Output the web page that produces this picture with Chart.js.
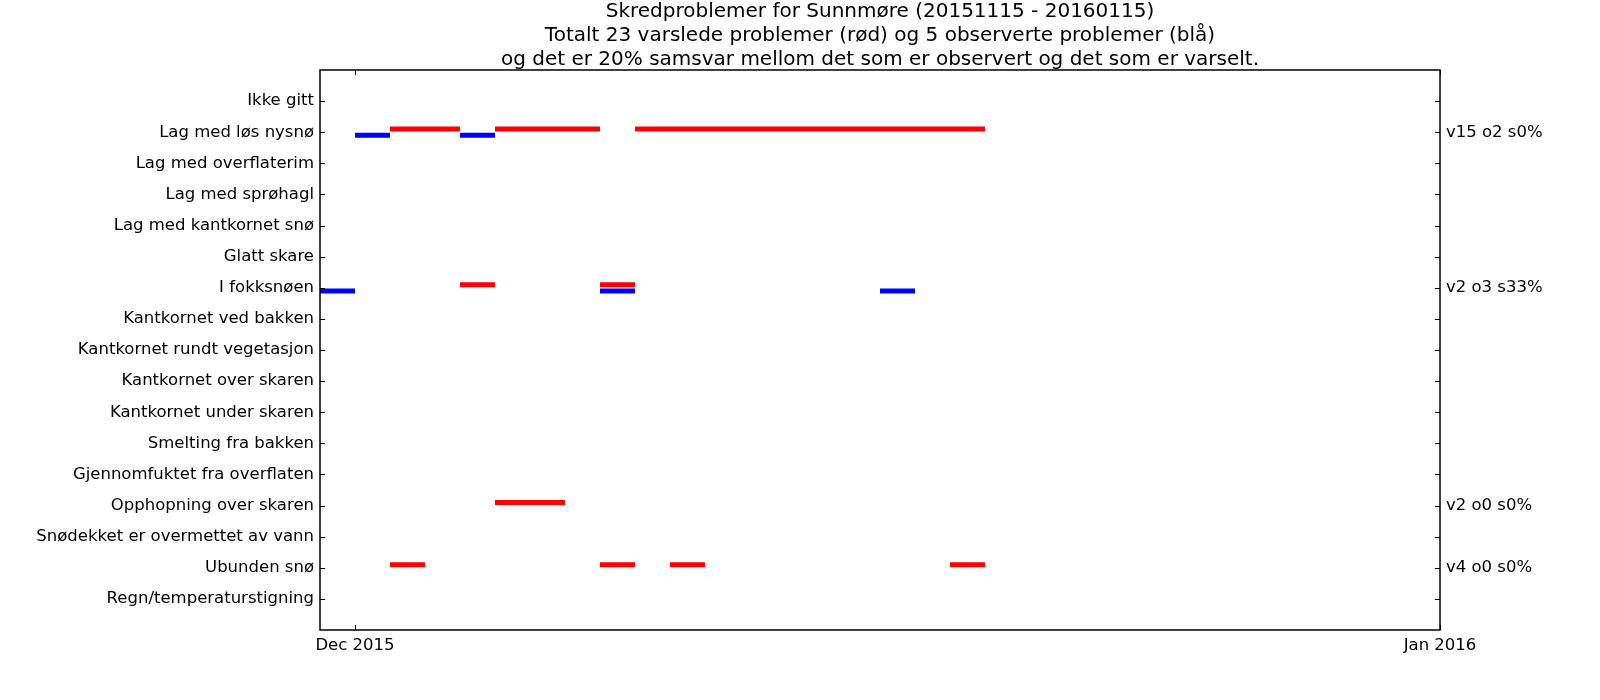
<!DOCTYPE html>
<html>
<head>
<meta charset="utf-8">
<script src="https://cdn.jsdelivr.net/npm/chart.js@4"></script>
<style>
html,body{margin:0;padding:0;background:#fff;}
#wrap{width:1600px;height:700px;}
</style>
</head>
<body>
<div id="wrap"><canvas id="c" width="1600" height="700"></canvas></div>
<script>
// ---------- data ----------
const titleLines = [
  "Skredproblemer for Sunnmøre (20151115 - 20160115)",
  "Totalt 23 varslede problemer (rød) og 5 observerte problemer (blå)",
  "og det er 20% samsvar mellom det som er observert og det som er varselt."
];
const categories = [
  "Ikke gitt","Lag med løs nysnø","Lag med overflaterim","Lag med sprøhagl",
  "Lag med kantkornet snø","Glatt skare","I fokksnøen","Kantkornet ved bakken",
  "Kantkornet rundt vegetasjon","Kantkornet over skaren","Kantkornet under skaren",
  "Smelting fra bakken","Gjennomfuktet fra overflaten","Opphopning over skaren",
  "Snødekket er overmettet av vann","Ubunden snø","Regn/temperaturstigning"
];
const xMinDate = "2015-11-30";
const xMaxDate = "2016-01-01";
const xTickDates = ["2015-12-01","2016-01-01"];
const xTickLabels = ["Dec 2015","Jan 2016"];

// forecast (varslet, red) days per problem
const fcLagMedLosNysno = ["2015-12-02","2015-12-03","2015-12-05","2015-12-06","2015-12-07",
  "2015-12-09","2015-12-10","2015-12-11","2015-12-12","2015-12-13","2015-12-14",
  "2015-12-15","2015-12-16","2015-12-17","2015-12-18"];
const fcIFokksnoen = ["2015-12-04","2015-12-08"];
const fcOpphopningOverSkaren = ["2015-12-05","2015-12-06"];
const fcUbundenSno = ["2015-12-02","2015-12-08","2015-12-10","2015-12-18"];
// observed (blue) days per problem
const obsLagMedLosNysno = ["2015-12-01","2015-12-04"];
const obsIFokksnoen = ["2015-11-30","2015-12-08","2015-12-16"];

const summaryProblems = ["Lag med løs nysnø","I fokksnøen","Opphopning over skaren","Ubunden snø"];
const summaryTexts = ["v15 o2 s0%","v2 o3 s33%","v2 o0 s0%","v4 o0 s0%"];

// ---------- build ----------
const DAY = 86400000;
function dayNum(s){ const [y,m,d]=s.split('-').map(Number); const [y0,m0,d0]=xMinDate.split('-').map(Number); return (Date.UTC(y,m-1,d)-Date.UTC(y0,m0-1,d0))/DAY; }

function segmentsFor(problem, dates, offset, pts){
  const cat = categories.indexOf(problem);
  const days = dates.map(dayNum).sort((a,b)=>a-b);
  let i=0;
  while(i<days.length){
    let s=days[i], e=s+1; i++;
    while(i<days.length && days[i]===e){ e++; i++; }
    pts.push({x:s,y:cat+offset},{x:e,y:cat+offset},{x:e,y:null});
  }
}
const redPts=[], bluePts=[];
segmentsFor("Lag med løs nysnø", obsLagMedLosNysno, 0.1, bluePts);
segmentsFor("I fokksnøen", obsIFokksnoen, 0.1, bluePts);
segmentsFor("Lag med løs nysnø", fcLagMedLosNysno, -0.1, redPts);
segmentsFor("I fokksnøen", fcIFokksnoen, -0.1, redPts);
segmentsFor("Opphopning over skaren", fcOpphopningOverSkaren, -0.1, redPts);
segmentsFor("Ubunden snø", fcUbundenSno, -0.1, redPts);

const xTickVals = xTickDates.map(dayNum);
const catTicks = categories.map((_,i)=>({value:i}));

Chart.defaults.font.family = "'DejaVu Sans', sans-serif";
Chart.defaults.color = "#000";

const framePlugin = {
  id:'frame',
  afterDraw(chart){
    const {ctx, chartArea:a, scales} = chart;
    ctx.save();
    ctx.strokeStyle='#000';
    ctx.lineWidth=1;
    ctx.beginPath();
    scales.y.ticks.forEach(t=>{
      const py=Math.round(scales.y.getPixelForValue(t.value))+0.5;
      ctx.moveTo(a.left,py); ctx.lineTo(a.left+5,py);
      ctx.moveTo(a.right,py); ctx.lineTo(a.right-5,py);
    });
    scales.x.ticks.forEach(t=>{
      const px=Math.round(scales.x.getPixelForValue(t.value))+0.5;
      ctx.moveTo(px,a.bottom); ctx.lineTo(px,a.bottom-5);
      ctx.moveTo(px,a.top); ctx.lineTo(px,a.top+5);
    });
    ctx.stroke();
    ctx.lineWidth=1.5;
    ctx.strokeRect(a.left,a.top,a.right-a.left,a.bottom-a.top);
    ctx.restore();
  }
};

new Chart(document.getElementById('c'), {
  type:'line',
  data:{ datasets:[
    {label:'observert', data:bluePts, borderColor:'#0000ff', borderWidth:5, borderCapStyle:'butt', pointRadius:0, spanGaps:false, tension:0, fill:false},
    {label:'varslet', data:redPts, borderColor:'#ff0000', borderWidth:5, borderCapStyle:'butt', pointRadius:0, spanGaps:false, tension:0, fill:false}
  ]},
  options:{
    responsive:false, animation:false,
    layout:{padding:0},
    plugins:{
      legend:{display:false}, tooltip:{enabled:false},
      title:{display:true, text:titleLines, color:'#000', fullSize:false,
        font:{size:20, weight:'normal', lineHeight:'24px'}, padding:{top:0,bottom:-2}}
    },
    scales:{
      x:{type:'linear', min:dayNum(xMinDate), max:dayNum(xMaxDate),
        afterBuildTicks(s){ s.ticks = xTickVals.map(v=>({value:v})); },
        afterFit(s){ s.height = 70; },
        grid:{display:false, drawTicks:false}, border:{display:false},
        ticks:{font:{size:16.5}, padding:6, maxRotation:0, autoSkip:false,
          callback(v){ const i=xTickVals.indexOf(v); return i>=0?xTickLabels[i]:''; }}
      },
      y:{type:'linear', position:'left', reverse:true, min:-1, max:categories.length,
        afterBuildTicks(s){ s.ticks = catTicks.map(t=>({value:t.value})); },
        afterFit(s){ s.width = 320; },
        grid:{display:false, drawTicks:false}, border:{display:false},
        ticks:{font:{size:16.5}, padding:6, autoSkip:false,
          callback(v){ return categories[v] ?? ''; }}
      },
      y2:{type:'linear', position:'right', reverse:true, min:-1, max:categories.length,
        afterBuildTicks(s){ s.ticks = catTicks.map(t=>({value:t.value})); },
        afterFit(s){ s.width = 160; },
        grid:{display:false, drawTicks:false}, border:{display:false},
        ticks:{font:{size:16.5}, padding:6, autoSkip:false,
          callback(v){ const i=summaryProblems.indexOf(categories[v]); return i>=0?summaryTexts[i]:''; }}
      }
    }
  },
  plugins:[framePlugin]
});
</script>
</body>
</html>
